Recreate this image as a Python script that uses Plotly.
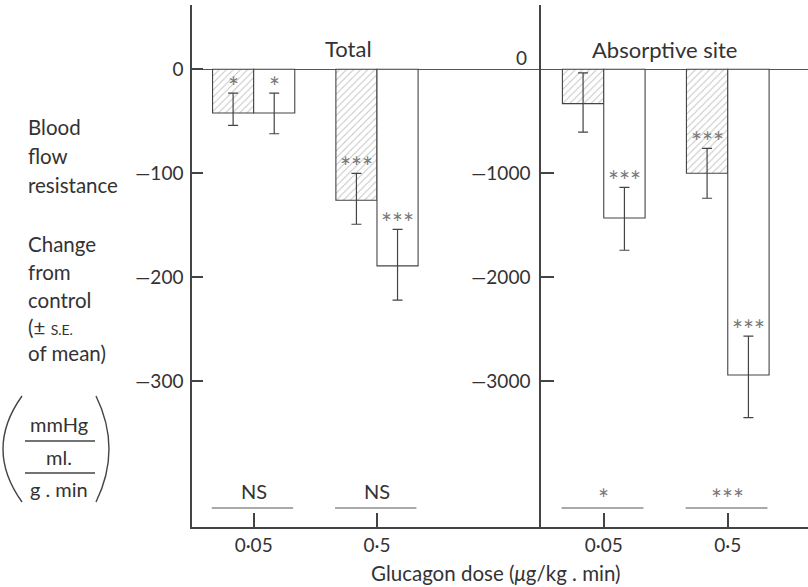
import plotly.graph_objects as go

# ---- data -------------------------------------------------------------
doses = ["0·05", "0·5"]

# Total blood flow resistance change (mmHg / ml/g.min)
total_hatched = [-42, -126]
total_hatched_up = [19, 26]
total_hatched_down = [12, 23]
total_open = [-42, -189]
total_open_up = [19, 35]
total_open_down = [20, 33]
total_hatched_sig = ["*", "***"]
total_open_sig = ["*", "***"]
total_pair_sig = ["NS", "NS"]

# Absorptive site resistance change
abs_hatched = [-330, -1000]
abs_hatched_up = [295, 240]
abs_hatched_down = [275, 240]
abs_open = [-1430, -2940]
abs_open_up = [295, 375]
abs_open_down = [310, 410]
abs_hatched_sig = ["", "***"]
abs_open_sig = ["***", "***"]
abs_pair_sig = ["*", "***"]

total_ticks = [0, -100, -200, -300]
abs_ticks = [-1000, -2000, -3000]

# ---- layout helpers ---------------------------------------------------
W, H = 808, 587
ML, MR, MT, MB = 192, 0, 5, 60
FONT = "Lato"
INK = "#333333"
STAR = "#777777"


def fx(xp):
    return (xp - ML) / (W - ML - MR)


def fy(yp):
    return (H - MB - yp) / (H - MT - MB)


def label(text, xp, yp, size=20, color=INK, xanchor="center"):
    return dict(x=fx(xp), y=fy(yp), xref="paper", yref="paper", text=text,
                xanchor=xanchor, yanchor="middle", showarrow=False,
                font=dict(family=FONT, size=size, color=color))


pos = list(range(len(doses)))
bw = 1 / 3

fig = go.Figure()


def add_pair(xa, ya, hv, hu, hd, ov, ou, od):
    err = dict(color="#444444", thickness=1.2, width=5)
    fig.add_trace(go.Bar(
        x=pos, y=hv, xaxis=xa, yaxis=ya, offset=-bw, width=bw,
        marker=dict(color="white",
                    pattern=dict(shape="/", fgcolor="#8a8a8a", bgcolor="white",
                                 size=5, solidity=0.2),
                    line=dict(color="#444444", width=1.1)),
        error_y=dict(type="data", symmetric=False, array=hu, arrayminus=hd, **err),
        showlegend=False, hoverinfo="skip"))
    fig.add_trace(go.Bar(
        x=pos, y=ov, xaxis=xa, yaxis=ya, offset=0, width=bw,
        marker=dict(color="white", line=dict(color="#444444", width=1.1)),
        error_y=dict(type="data", symmetric=False, array=ou, arrayminus=od, **err),
        showlegend=False, hoverinfo="skip"))


add_pair("x", "y", total_hatched, total_hatched_up, total_hatched_down,
         total_open, total_open_up, total_open_down)
add_pair("x2", "y2", abs_hatched, abs_hatched_up, abs_hatched_down,
         abs_open, abs_open_up, abs_open_down)

ann = []


def stars(xr, yr, vals, ups, sigs, off):
    for i, (v, u, s) in enumerate(zip(vals, ups, sigs)):
        if s:
            ann.append(dict(x=pos[i] + off, y=v + u, xref=xr, yref=yr,
                            text=s, showarrow=False,
                            xanchor="center", yanchor="middle", yshift=6,
                            font=dict(family=FONT, size=26, color=STAR)))


stars("x", "y", total_hatched, total_hatched_up, total_hatched_sig, -bw / 2)
stars("x", "y", total_open, total_open_up, total_open_sig, bw / 2)
stars("x2", "y2", abs_hatched, abs_hatched_up, abs_hatched_sig, -bw / 2)
stars("x2", "y2", abs_open, abs_open_up, abs_open_sig, bw / 2)

shapes = []

# significance between doses, drawn just above the dose axis
for xr, sigs in (("x", total_pair_sig), ("x2", abs_pair_sig)):
    for i, s in enumerate(sigs):
        shapes.append(dict(type="line", xref=xr, yref="paper",
                           x0=pos[i] - 0.34, x1=pos[i] + 0.32,
                           y0=fy(508), y1=fy(508),
                           line=dict(color="#555555", width=1.2)))
        if s == "NS":
            font = dict(family=FONT, size=20, color=INK)
            yp = 491
        else:
            font = dict(family=FONT, size=26, color=STAR)
            yp = 499
        ann.append(dict(x=pos[i], y=fy(yp), xref=xr, yref="paper", text=s,
                        xanchor="center", yanchor="middle", showarrow=False, font=font))

# panel titles
ann.append(label("Total", 348, 48, size=22))
ann.append(label("Absorptive site", 664, 50, size=22))

# zero label of the absorptive-site axis
ann.append(label("0", 529, 58, size=19, xanchor="right"))

# y-axis description
lines = [("Blood", 127), ("flow", 156), ("resistance", 185),
         ("Change", 244), ("from", 272), ("control", 300),
         ("(\u00b1 <span style='font-size:14px'>S.E.</span>", 327), ("of mean)", 353)]
for txt, yp in lines:
    ann.append(label(txt, 26, yp, size=20.5, xanchor="left"))

# unit fraction
for txt, yp in (("mmHg", 424), ("ml.", 457), ("g . min", 489)):
    ann.append(label(txt, 59, yp, size=20))
for yp in (441, 473):
    shapes.append(dict(type="line", xref="paper", yref="paper",
                       x0=fx(25), x1=fx(95), y0=fy(yp), y1=fy(yp),
                       line=dict(color="#444444", width=1.3)))


def paren(x_end, x_ctrl, y_top, y_bot):
    return (f"M {fx(x_end)},{fy(y_top)} Q {fx(x_ctrl)},{fy((y_top + y_bot) / 2)} "
            f"{fx(x_end)},{fy(y_bot)}")


shapes.append(dict(type="path", xref="paper", yref="paper",
                   path=paren(22, -16, 396, 502), line=dict(color="#444444", width=1.4)))
shapes.append(dict(type="path", xref="paper", yref="paper",
                   path=paren(96, 122, 396, 502), line=dict(color="#444444", width=1.4)))

# dose axis title
ann.append(label("Glucagon dose (<i>\u03bc</i>g/kg . min)", 496, 573, size=20.5))

split = fx(541)
axis_common = dict(showline=True, linecolor="#444444", linewidth=1.5, showgrid=False,
                   ticks="inside", tickcolor="#444444", tickwidth=1.5,
                   tickfont=dict(family=FONT, size=19, color=INK))

fig.update_layout(
    width=W, height=H,
    margin=dict(l=ML, r=MR, t=MT, b=MB),
    paper_bgcolor="white", plot_bgcolor="white",
    barmode="overlay",
    showlegend=False,
    xaxis=dict(domain=[0, split], range=[-0.5, 2.33], tickvals=pos, ticktext=doses,
               ticklen=14, zeroline=False, **axis_common),
    xaxis2=dict(domain=[split, 1], range=[-0.506, 1.647], tickvals=pos, ticktext=doses,
                ticklen=14, zeroline=False, anchor="y2", **axis_common),
    yaxis=dict(range=[-440.1, 61.8], tickvals=total_ticks,
               ticktext=["0" if v == 0 else "\u2014" + str(-v) for v in total_ticks],
               ticklen=11, zeroline=True, zerolinecolor="#555555", zerolinewidth=1.2,
               ticklabelstandoff=3, **axis_common),
    yaxis2=dict(range=[-4401, 618], tickvals=abs_ticks,
                ticktext=["\u2014" + str(-v) for v in abs_ticks],
                ticklen=13, anchor="x2", zeroline=True, zerolinecolor="#555555",
                zerolinewidth=1.2, ticklabelstandoff=5, **axis_common),
    annotations=ann,
    shapes=shapes,
)

fig.write_html("out.html")
